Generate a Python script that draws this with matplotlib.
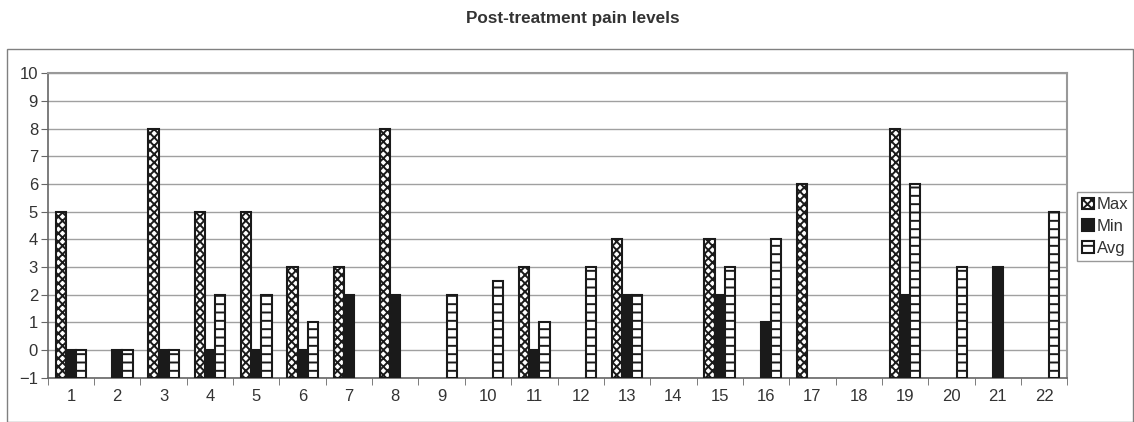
import numpy as np
import matplotlib.pyplot as plt
from matplotlib.patches import Rectangle

plt.rcParams['font.family'] = ['Liberation Sans', 'DejaVu Sans']
plt.rcParams['hatch.linewidth'] = 1.4
plt.rcParams['axes.unicode_minus'] = True

# data (None = no bar)
patients = list(range(1, 23))
max_pain = [5, None, 8, 5, 5, 3, 3, 8, None, None, 3, None, 4, None, 4, None, 6, None, 8, None, None, None]
min_pain = [0, 0, 0, 0, 0, 0, 2, 2, None, None, 0, None, 2, None, 2, 1, None, None, 2, None, 3, None]
avg_pain = [0, 0, 0, 2, 2, 1, None, None, 2, 2.5, 1, 3, 2, None, 3, 4, None, None, 6, 3, None, 5]

base = -1
fig = plt.figure(figsize=(11.34, 4.22), dpi=100)
ax = fig.add_axes([0.0421, 0.105, 0.8991, 0.7213])

# outer chart border
fig.patches.append(Rectangle((7 / 1134, 0.0), 1126 / 1134, (422 - 49) / 422,
                             transform=fig.transFigure, fill=False,
                             edgecolor='#808080', linewidth=1.0))


def draw(values, offset, label, **style):
    xs = [p + offset for p, v in zip(patients, values) if v is not None]
    hs = [v - base for v in values if v is not None]
    return ax.bar(xs, hs, width=0.22, bottom=base, label=label,
                  linewidth=1.5, zorder=3, **style)


w = 0.22
draw(max_pain, -w, 'Max', facecolor='white', edgecolor='#1a1a1a', hatch='xxxx')
draw(min_pain, 0, 'Min', facecolor='#1a1a1a', edgecolor='#1a1a1a')
draw(avg_pain, w, 'Avg', facecolor='white', edgecolor='#1a1a1a', hatch='--')

ax.set_xlim(0.5, 22.5)
ax.set_ylim(-1, 10)
ax.set_yticks(range(-1, 11))
ax.set_xticks(patients)
ax.set_xticks(np.arange(0.5, 23, 1), minor=True)
ax.tick_params(axis='x', which='major', length=0, labelsize=12, colors='#333333', pad=8)
ax.tick_params(axis='x', which='minor', length=5, color='#666666')
ax.tick_params(axis='y', length=5, labelsize=12, colors='#333333', pad=2)
ax.tick_params(axis='y', color='#666666')
ax.grid(axis='y', color='#a0a0a0', linewidth=1.0, zorder=0)
ax.set_axisbelow(True)
for side in ['left', 'bottom']:
    ax.spines[side].set_color('#666666')
    ax.spines[side].set_linewidth(1.2)
for side in ['top', 'right']:
    ax.spines[side].set_color('#999999')
    ax.spines[side].set_linewidth(1.5)

fig.text(0.5048, 0.955, 'Post-treatment pain levels', ha='center', va='center',
         fontsize=12.3, fontweight='bold', color='#333333')

leg = ax.legend(loc='center left', bbox_to_anchor=(1.0095, 0.497), fontsize=12,
                frameon=True, fancybox=False, borderpad=0.3, handlelength=0.7,
                handleheight=0.7, handletextpad=0.2, labelspacing=0.4,
                borderaxespad=0)
leg.get_frame().set_edgecolor('#808080')
leg.get_frame().set_linewidth(1.0)
for t in leg.get_texts():
    t.set_color('#333333')

fig.savefig('out.png', dpi=100)
